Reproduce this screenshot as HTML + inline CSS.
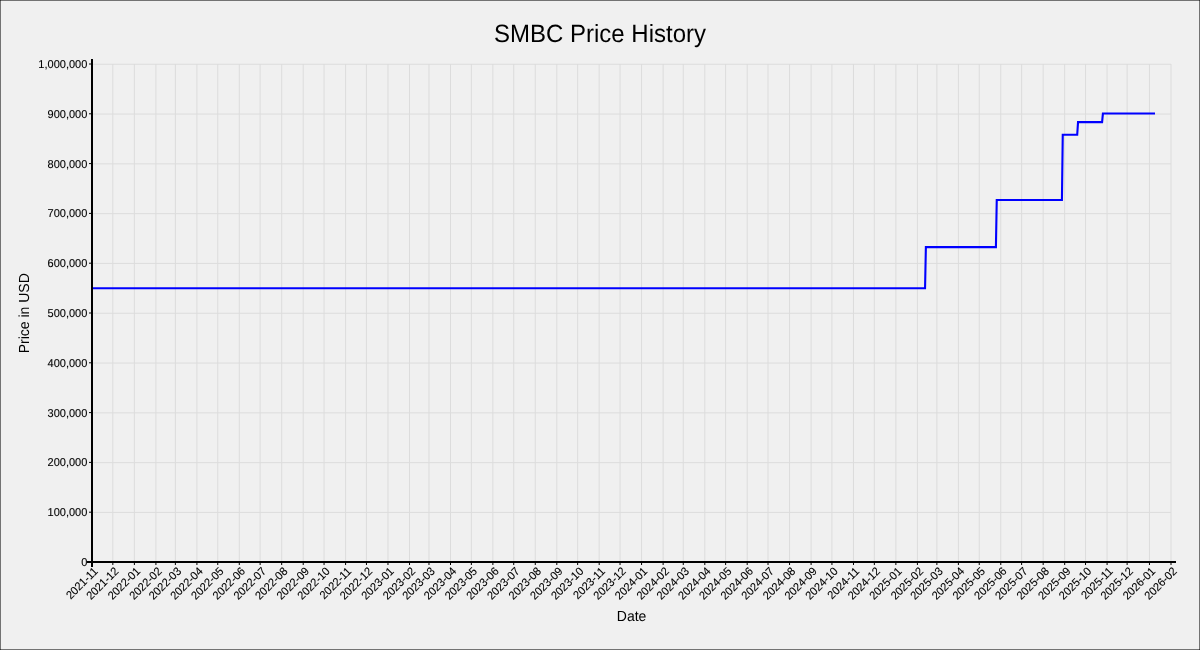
<!DOCTYPE html>
<html><head><meta charset="utf-8"><style>
html,body{margin:0;padding:0;background:#f0f0f0;}
svg{display:block;will-change:transform;text-rendering:geometricPrecision;}
text{stroke:#000;stroke-width:0.1;font-family:"Liberation Sans",sans-serif;}
text.big{stroke:none;}
</style></head><body>
<svg width="1200" height="650" viewBox="0 0 1200 650">
<rect x="0" y="0" width="1200" height="650" fill="#f0f0f0"/>
<path d="M0,0.5H1200M0,649.5H1200M0.5,0V650M1199.5,0V650" stroke="#000" stroke-opacity="0.52" stroke-width="1" fill="none"/>
<path d="M92.00,64.0V562.0M112.84,64.0V562.0M134.38,64.0V562.0M155.92,64.0V562.0M175.37,64.0V562.0M196.91,64.0V562.0M217.76,64.0V562.0M239.29,64.0V562.0M260.14,64.0V562.0M281.68,64.0V562.0M303.21,64.0V562.0M324.06,64.0V562.0M345.60,64.0V562.0M366.44,64.0V562.0M387.98,64.0V562.0M409.52,64.0V562.0M428.97,64.0V562.0M450.51,64.0V562.0M471.35,64.0V562.0M492.89,64.0V562.0M513.73,64.0V562.0M535.27,64.0V562.0M556.81,64.0V562.0M577.65,64.0V562.0M599.19,64.0V562.0M620.04,64.0V562.0M641.57,64.0V562.0M663.11,64.0V562.0M683.26,64.0V562.0M704.80,64.0V562.0M725.64,64.0V562.0M747.18,64.0V562.0M768.03,64.0V562.0M789.56,64.0V562.0M811.10,64.0V562.0M831.95,64.0V562.0M853.48,64.0V562.0M874.33,64.0V562.0M895.87,64.0V562.0M917.40,64.0V562.0M936.86,64.0V562.0M958.40,64.0V562.0M979.24,64.0V562.0M1000.78,64.0V562.0M1021.62,64.0V562.0M1043.16,64.0V562.0M1064.70,64.0V562.0M1085.54,64.0V562.0M1107.08,64.0V562.0M1127.12,64.0V562.0M1149.46,64.0V562.0M1171.00,64.0V562.0M92.0,562.25H1171.0M92.0,512.45H1171.0M92.0,462.65H1171.0M92.0,412.85H1171.0M92.0,363.05H1171.0M92.0,313.25H1171.0M92.0,263.45H1171.0M92.0,213.65H1171.0M92.0,163.85H1171.0M92.0,114.05H1171.0M92.0,64.25H1171.0" stroke="#dcdcdc" stroke-width="1" fill="none"/>
<path d="M92.00,288.20L925.05,288.20L925.88,247.12L995.91,247.12L996.75,200.05L1061.92,200.05L1062.75,134.82L1077.20,134.82L1078.04,122.12L1102.08,122.12L1102.91,113.55L1155.02,113.55" stroke="#0000ff" stroke-width="2.1" fill="none"/>
<path d="M92.00,562.0V565.0M112.84,562.0V565.0M134.38,562.0V565.0M155.92,562.0V565.0M175.37,562.0V565.0M196.91,562.0V565.0M217.76,562.0V565.0M239.29,562.0V565.0M260.14,562.0V565.0M281.68,562.0V565.0M303.21,562.0V565.0M324.06,562.0V565.0M345.60,562.0V565.0M366.44,562.0V565.0M387.98,562.0V565.0M409.52,562.0V565.0M428.97,562.0V565.0M450.51,562.0V565.0M471.35,562.0V565.0M492.89,562.0V565.0M513.73,562.0V565.0M535.27,562.0V565.0M556.81,562.0V565.0M577.65,562.0V565.0M599.19,562.0V565.0M620.04,562.0V565.0M641.57,562.0V565.0M663.11,562.0V565.0M683.26,562.0V565.0M704.80,562.0V565.0M725.64,562.0V565.0M747.18,562.0V565.0M768.03,562.0V565.0M789.56,562.0V565.0M811.10,562.0V565.0M831.95,562.0V565.0M853.48,562.0V565.0M874.33,562.0V565.0M895.87,562.0V565.0M917.40,562.0V565.0M936.86,562.0V565.0M958.40,562.0V565.0M979.24,562.0V565.0M1000.78,562.0V565.0M1021.62,562.0V565.0M1043.16,562.0V565.0M1064.70,562.0V565.0M1085.54,562.0V565.0M1107.08,562.0V565.0M1127.12,562.0V565.0M1149.46,562.0V565.0M1171.00,562.0V565.0M89.0,562.00H92.0M89.0,512.20H92.0M89.0,462.40H92.0M89.0,412.60H92.0M89.0,362.80H92.0M89.0,313.00H92.0M89.0,263.20H92.0M89.0,213.40H92.0M89.0,163.60H92.0M89.0,113.80H92.0M89.0,64.00H92.0" stroke="#000" stroke-width="1" fill="none"/>
<path d="M87.0,562.0H1176.0M92.0,567.0V59.0" stroke="#000" stroke-width="2" fill="none"/>
<text transform="translate(87.3,566.00) scale(1,1.04)" text-anchor="end" font-size="11">0</text>
<text transform="translate(87.3,516.20) scale(1,1.04)" text-anchor="end" font-size="11">100,000</text>
<text transform="translate(87.3,466.40) scale(1,1.04)" text-anchor="end" font-size="11">200,000</text>
<text transform="translate(87.3,416.60) scale(1,1.04)" text-anchor="end" font-size="11">300,000</text>
<text transform="translate(87.3,366.80) scale(1,1.04)" text-anchor="end" font-size="11">400,000</text>
<text transform="translate(87.3,317.00) scale(1,1.04)" text-anchor="end" font-size="11">500,000</text>
<text transform="translate(87.3,267.20) scale(1,1.04)" text-anchor="end" font-size="11">600,000</text>
<text transform="translate(87.3,217.40) scale(1,1.04)" text-anchor="end" font-size="11">700,000</text>
<text transform="translate(87.3,167.60) scale(1,1.04)" text-anchor="end" font-size="11">800,000</text>
<text transform="translate(87.3,117.80) scale(1,1.04)" text-anchor="end" font-size="11">900,000</text>
<text transform="translate(87.3,68.00) scale(1,1.04)" text-anchor="end" font-size="11">1,000,000</text>
<text transform="translate(98.60,571.8) rotate(-45) scale(1,1.04)" text-anchor="end" font-size="11">2021-11</text>
<text transform="translate(119.44,571.8) rotate(-45) scale(1,1.04)" text-anchor="end" font-size="11">2021-12</text>
<text transform="translate(140.98,571.8) rotate(-45) scale(1,1.04)" text-anchor="end" font-size="11">2022-01</text>
<text transform="translate(162.52,571.8) rotate(-45) scale(1,1.04)" text-anchor="end" font-size="11">2022-02</text>
<text transform="translate(181.97,571.8) rotate(-45) scale(1,1.04)" text-anchor="end" font-size="11">2022-03</text>
<text transform="translate(203.51,571.8) rotate(-45) scale(1,1.04)" text-anchor="end" font-size="11">2022-04</text>
<text transform="translate(224.36,571.8) rotate(-45) scale(1,1.04)" text-anchor="end" font-size="11">2022-05</text>
<text transform="translate(245.89,571.8) rotate(-45) scale(1,1.04)" text-anchor="end" font-size="11">2022-06</text>
<text transform="translate(266.74,571.8) rotate(-45) scale(1,1.04)" text-anchor="end" font-size="11">2022-07</text>
<text transform="translate(288.28,571.8) rotate(-45) scale(1,1.04)" text-anchor="end" font-size="11">2022-08</text>
<text transform="translate(309.81,571.8) rotate(-45) scale(1,1.04)" text-anchor="end" font-size="11">2022-09</text>
<text transform="translate(330.66,571.8) rotate(-45) scale(1,1.04)" text-anchor="end" font-size="11">2022-10</text>
<text transform="translate(352.20,571.8) rotate(-45) scale(1,1.04)" text-anchor="end" font-size="11">2022-11</text>
<text transform="translate(373.04,571.8) rotate(-45) scale(1,1.04)" text-anchor="end" font-size="11">2022-12</text>
<text transform="translate(394.58,571.8) rotate(-45) scale(1,1.04)" text-anchor="end" font-size="11">2023-01</text>
<text transform="translate(416.12,571.8) rotate(-45) scale(1,1.04)" text-anchor="end" font-size="11">2023-02</text>
<text transform="translate(435.57,571.8) rotate(-45) scale(1,1.04)" text-anchor="end" font-size="11">2023-03</text>
<text transform="translate(457.11,571.8) rotate(-45) scale(1,1.04)" text-anchor="end" font-size="11">2023-04</text>
<text transform="translate(477.95,571.8) rotate(-45) scale(1,1.04)" text-anchor="end" font-size="11">2023-05</text>
<text transform="translate(499.49,571.8) rotate(-45) scale(1,1.04)" text-anchor="end" font-size="11">2023-06</text>
<text transform="translate(520.33,571.8) rotate(-45) scale(1,1.04)" text-anchor="end" font-size="11">2023-07</text>
<text transform="translate(541.87,571.8) rotate(-45) scale(1,1.04)" text-anchor="end" font-size="11">2023-08</text>
<text transform="translate(563.41,571.8) rotate(-45) scale(1,1.04)" text-anchor="end" font-size="11">2023-09</text>
<text transform="translate(584.25,571.8) rotate(-45) scale(1,1.04)" text-anchor="end" font-size="11">2023-10</text>
<text transform="translate(605.79,571.8) rotate(-45) scale(1,1.04)" text-anchor="end" font-size="11">2023-11</text>
<text transform="translate(626.64,571.8) rotate(-45) scale(1,1.04)" text-anchor="end" font-size="11">2023-12</text>
<text transform="translate(648.17,571.8) rotate(-45) scale(1,1.04)" text-anchor="end" font-size="11">2024-01</text>
<text transform="translate(669.71,571.8) rotate(-45) scale(1,1.04)" text-anchor="end" font-size="11">2024-02</text>
<text transform="translate(689.86,571.8) rotate(-45) scale(1,1.04)" text-anchor="end" font-size="11">2024-03</text>
<text transform="translate(711.40,571.8) rotate(-45) scale(1,1.04)" text-anchor="end" font-size="11">2024-04</text>
<text transform="translate(732.24,571.8) rotate(-45) scale(1,1.04)" text-anchor="end" font-size="11">2024-05</text>
<text transform="translate(753.78,571.8) rotate(-45) scale(1,1.04)" text-anchor="end" font-size="11">2024-06</text>
<text transform="translate(774.63,571.8) rotate(-45) scale(1,1.04)" text-anchor="end" font-size="11">2024-07</text>
<text transform="translate(796.16,571.8) rotate(-45) scale(1,1.04)" text-anchor="end" font-size="11">2024-08</text>
<text transform="translate(817.70,571.8) rotate(-45) scale(1,1.04)" text-anchor="end" font-size="11">2024-09</text>
<text transform="translate(838.55,571.8) rotate(-45) scale(1,1.04)" text-anchor="end" font-size="11">2024-10</text>
<text transform="translate(860.08,571.8) rotate(-45) scale(1,1.04)" text-anchor="end" font-size="11">2024-11</text>
<text transform="translate(880.93,571.8) rotate(-45) scale(1,1.04)" text-anchor="end" font-size="11">2024-12</text>
<text transform="translate(902.47,571.8) rotate(-45) scale(1,1.04)" text-anchor="end" font-size="11">2025-01</text>
<text transform="translate(924.00,571.8) rotate(-45) scale(1,1.04)" text-anchor="end" font-size="11">2025-02</text>
<text transform="translate(943.46,571.8) rotate(-45) scale(1,1.04)" text-anchor="end" font-size="11">2025-03</text>
<text transform="translate(965.00,571.8) rotate(-45) scale(1,1.04)" text-anchor="end" font-size="11">2025-04</text>
<text transform="translate(985.84,571.8) rotate(-45) scale(1,1.04)" text-anchor="end" font-size="11">2025-05</text>
<text transform="translate(1007.38,571.8) rotate(-45) scale(1,1.04)" text-anchor="end" font-size="11">2025-06</text>
<text transform="translate(1028.22,571.8) rotate(-45) scale(1,1.04)" text-anchor="end" font-size="11">2025-07</text>
<text transform="translate(1049.76,571.8) rotate(-45) scale(1,1.04)" text-anchor="end" font-size="11">2025-08</text>
<text transform="translate(1071.30,571.8) rotate(-45) scale(1,1.04)" text-anchor="end" font-size="11">2025-09</text>
<text transform="translate(1092.14,571.8) rotate(-45) scale(1,1.04)" text-anchor="end" font-size="11">2025-10</text>
<text transform="translate(1113.68,571.8) rotate(-45) scale(1,1.04)" text-anchor="end" font-size="11">2025-11</text>
<text transform="translate(1133.72,571.8) rotate(-45) scale(1,1.04)" text-anchor="end" font-size="11">2025-12</text>
<text transform="translate(1156.06,571.8) rotate(-45) scale(1,1.04)" text-anchor="end" font-size="11">2026-01</text>
<text transform="translate(1177.60,571.8) rotate(-45) scale(1,1.04)" text-anchor="end" font-size="11">2026-02</text>
<text class="big" transform="translate(600,42) scale(1,1.04)" text-anchor="middle" font-size="24">SMBC Price History</text>
<text class="big" transform="translate(631.6,620.5) scale(1,1.04)" text-anchor="middle" font-size="14">Date</text>
<text class="big" transform="translate(29,313.3) rotate(-90) scale(1,1.04)" text-anchor="middle" font-size="14">Price in USD</text>
</svg></body></html>
